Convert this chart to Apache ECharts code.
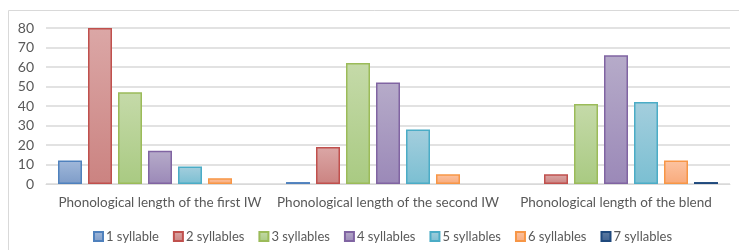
<!DOCTYPE html>
<html>
<head>
<meta charset="utf-8">
<script src="https://cdn.jsdelivr.net/npm/echarts@6/dist/echarts.min.js"></script>
<style>
  html, body { margin: 0; padding: 0; background: #fff; }
  #chart { width: 739px; height: 250px; }
</style>
</head>
<body>
<div id="chart"></div>
<script>
const categories = [
  'Phonological length of the first IW',
  'Phonological length of the second IW',
  'Phonological length of the blend',
];
const seriesNames = ['1 syllable', '2 syllables', '3 syllables', '4 syllables', '5 syllables', '6 syllables', '7 syllables'];
const syl1 = [12, 1, 0];
const syl2 = [80, 19, 5];
const syl3 = [47, 62, 41];
const syl4 = [17, 52, 66];
const syl5 = [9, 28, 42];
const syl6 = [3, 5, 12];
const syl7 = [0, 0, 1];
const yTicks = [0, 10, 20, 30, 40, 50, 60, 70, 80];

// Excel 2010 style: border colour + light top / darker bottom gradient
const palette = [
  { border: '#4F81BD', top: '#A0B8DA', bottom: '#7E9CC8' },
  { border: '#C0504D', top: '#DBA7A6', bottom: '#CB8381' },
  { border: '#9BBB59', top: '#C5DAA9', bottom: '#A9CA82' },
  { border: '#8064A2', top: '#B6ABC9', bottom: '#9B89B8' },
  { border: '#4BACC6', top: '#A4CEDD', bottom: '#7BBFD2' },
  { border: '#F79646', top: '#FCC3A1', bottom: '#F8AA7B' },
  { border: '#1F497D', top: '#5F7DA3', bottom: '#3E6190' },
];

const values = [syl1, syl2, syl3, syl4, syl5, syl6, syl7];
const font = 'Lato, "Open Sans", sans-serif';

const chart = echarts.init(document.getElementById('chart'), null, { renderer: 'canvas' });

chart.setOption({
  animation: false,
  textStyle: { fontFamily: font },
  graphic: [
    {
      type: 'rect',
      shape: { x: 8.5, y: 10.5, width: 740, height: 260 },
      style: { fill: 'none', stroke: '#d9d9d9', lineWidth: 1 },
      silent: true,
    },
  ],
  grid: { left: 46, right: 9, top: 28, bottom: 66 },
  legend: {
    data: seriesNames,
    bottom: 2,
    left: 88,
    itemWidth: 9,
    itemHeight: 9,
    itemGap: 14,
    icon: 'rect',
    textStyle: { color: '#595959', fontSize: 13, fontFamily: font, padding: [0, 0, 0, -2] },
  },
  xAxis: {
    type: 'category',
    data: categories,
    axisLine: { lineStyle: { color: '#d9d9d9', width: 1 } },
    axisTick: { show: false },
    axisLabel: { color: '#595959', fontSize: 13.5, margin: 12, interval: 0, fontFamily: font },
  },
  yAxis: {
    type: 'value',
    min: yTicks[0],
    max: yTicks[yTicks.length - 1],
    interval: 10,
    axisLine: { show: false },
    axisTick: { show: false },
    splitLine: { lineStyle: { color: '#d9d9d9', width: 1.5 } },
    axisLabel: { color: '#595959', fontSize: 14, margin: 12, fontFamily: font },
  },
  series: seriesNames.map((name, i) => ({
    name,
    type: 'bar',
    // zero counts draw no bar, as in the original
    data: values[i].map((v) => (v === 0 ? '-' : v)),
    barWidth: 24,
    barGap: '25%',
    itemStyle: {
      color: new echarts.graphic.LinearGradient(0, 0, 0, 1, [
        { offset: 0, color: palette[i].top },
        { offset: 1, color: palette[i].bottom },
      ]),
      borderColor: palette[i].border,
      borderWidth: 1.5,
    },
  })),
});
</script>
</body>
</html>
